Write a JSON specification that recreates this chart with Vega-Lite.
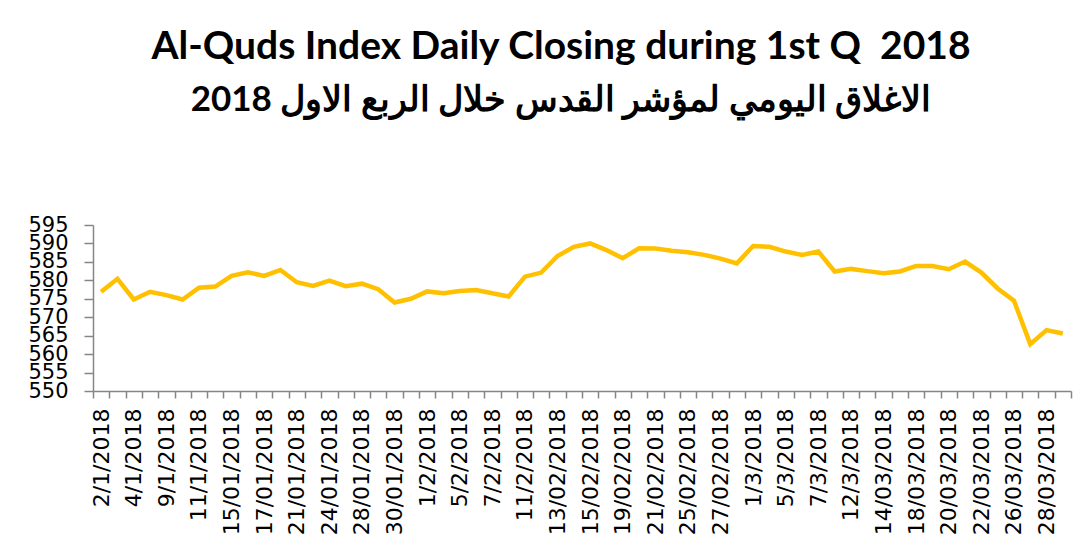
{
  "$schema": "https://vega.github.io/schema/vega-lite/v6.json",
  "width": 978,
  "height": 166,
  "autosize": {"type": "none"},
  "padding": {"left": 93, "top": 225, "right": 16, "bottom": 163},
  "background": "white",
  "title": {
    "text": "Al-Quds Index Daily Closing during 1st Q\u00a0 2018",
    "subtitle": "2018 الاغلاق اليومي لمؤشر القدس خلال الربع الاول",
    "font": "Lato",
    "fontSize": 39,
    "fontWeight": "bold",
    "color": "black",
    "subtitleFont": "Lato",
    "subtitleFontSize": 35,
    "subtitleFontWeight": "bold",
    "subtitleColor": "black",
    "subtitlePadding": 16,
    "anchor": "middle",
    "frame": "group",
    "dx": -21,
    "offset": 96
  },
  "data": {
    "values": [
      {"date": "2/1/2018", "close": 576.9},
      {"date": "3/1/2018", "close": 580.4},
      {"date": "4/1/2018", "close": 574.8},
      {"date": "8/1/2018", "close": 576.9},
      {"date": "9/1/2018", "close": 576.0},
      {"date": "10/1/2018", "close": 574.8},
      {"date": "11/1/2018", "close": 578.0},
      {"date": "14/01/2018", "close": 578.3},
      {"date": "15/01/2018", "close": 581.2},
      {"date": "16/01/2018", "close": 582.2},
      {"date": "17/01/2018", "close": 581.2},
      {"date": "18/01/2018", "close": 582.8},
      {"date": "21/01/2018", "close": 579.5},
      {"date": "22/01/2018", "close": 578.5},
      {"date": "24/01/2018", "close": 579.9},
      {"date": "25/01/2018", "close": 578.4},
      {"date": "28/01/2018", "close": 579.1},
      {"date": "29/01/2018", "close": 577.6},
      {"date": "30/01/2018", "close": 574.0},
      {"date": "31/01/2018", "close": 575.0},
      {"date": "1/2/2018", "close": 577.0},
      {"date": "4/2/2018", "close": 576.5},
      {"date": "5/2/2018", "close": 577.1},
      {"date": "6/2/2018", "close": 577.4},
      {"date": "7/2/2018", "close": 576.5},
      {"date": "8/2/2018", "close": 575.6},
      {"date": "11/2/2018", "close": 581.0},
      {"date": "12/2/2018", "close": 582.1},
      {"date": "13/02/2018", "close": 586.6},
      {"date": "14/02/2018", "close": 589.1},
      {"date": "15/02/2018", "close": 590.0},
      {"date": "18/02/2018", "close": 588.2},
      {"date": "19/02/2018", "close": 586.0},
      {"date": "20/02/2018", "close": 588.7},
      {"date": "21/02/2018", "close": 588.6},
      {"date": "22/02/2018", "close": 588.0},
      {"date": "25/02/2018", "close": 587.6},
      {"date": "26/02/2018", "close": 586.9},
      {"date": "27/02/2018", "close": 585.9},
      {"date": "28/02/2018", "close": 584.6},
      {"date": "1/3/2018", "close": 589.3},
      {"date": "4/3/2018", "close": 589.1},
      {"date": "5/3/2018", "close": 587.8},
      {"date": "6/3/2018", "close": 586.9},
      {"date": "7/3/2018", "close": 587.8},
      {"date": "8/3/2018", "close": 582.4},
      {"date": "12/3/2018", "close": 583.1},
      {"date": "13/03/2018", "close": 582.5},
      {"date": "14/03/2018", "close": 581.9},
      {"date": "15/03/2018", "close": 582.4},
      {"date": "18/03/2018", "close": 583.9},
      {"date": "19/03/2018", "close": 583.9},
      {"date": "20/03/2018", "close": 583.0},
      {"date": "21/03/2018", "close": 585.1},
      {"date": "22/03/2018", "close": 582.1},
      {"date": "25/03/2018", "close": 577.8},
      {"date": "26/03/2018", "close": 574.5},
      {"date": "27/03/2018", "close": 562.7},
      {"date": "28/03/2018", "close": 566.5},
      {"date": "29/03/2018", "close": 565.6}
    ]
  },
  "mark": {"type": "line", "color": "#FFC000", "strokeWidth": 4.5, "strokeJoin": "miter", "strokeCap": "butt"},
  "encoding": {
    "x": {
      "field": "date",
      "type": "ordinal",
      "sort": null,
      "scale": {"type": "band", "paddingInner": 0, "paddingOuter": 0},
      "axis": {
        "title": null,
        "labelAngle": -90,
        "labelFont": "DejaVu Sans",
        "labelFontSize": 22,
        "labelColor": "black",
        "labelPadding": 10,
        "labelOverlap": false,
        "labelExpr": "round(datum.index * 59) % 2 == 0 ? datum.label : ''",
        "tickBand": "extent",
        "tickSize": 7,
        "tickColor": "#868686",
        "domainColor": "#868686",
        "domainWidth": 1.5,
        "tickWidth": 1.5,
        "grid": false
      }
    },
    "y": {
      "field": "close",
      "type": "quantitative",
      "scale": {"domain": [550, 595], "zero": false, "nice": false},
      "axis": {
        "title": null,
        "values": [550, 555, 560, 565, 570, 575, 580, 585, 590, 595],
        "labelFont": "DejaVu Sans",
        "labelFontSize": 21,
        "labelColor": "black",
        "labelPadding": 16,
        "labelOverlap": false,
        "labelFlush": false,
        "tickSize": 9,
        "tickColor": "#868686",
        "domainColor": "#868686",
        "domainWidth": 1.5,
        "tickWidth": 1.5,
        "grid": false
      }
    }
  },
  "config": {"view": {"stroke": null}}
}
